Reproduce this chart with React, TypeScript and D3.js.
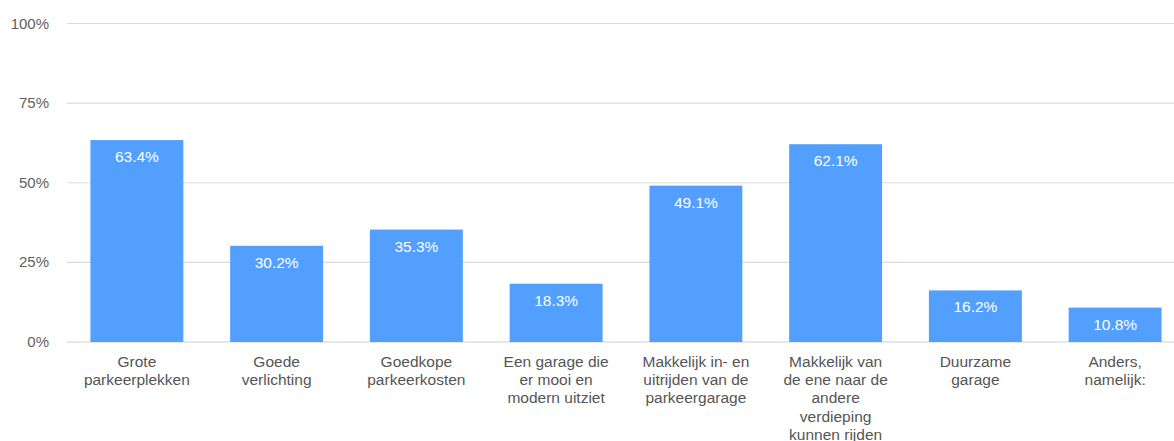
import React from 'react';
import {scaleBand, scaleLinear} from 'd3';

const categories = [
  ['Grote', 'parkeerplekken'],
  ['Goede', 'verlichting'],
  ['Goedkope', 'parkeerkosten'],
  ['Een garage die', 'er mooi en', 'modern uitziet'],
  ['Makkelijk in- en', 'uitrijden van de', 'parkeergarage'],
  ['Makkelijk van', 'de ene naar de', 'andere', 'verdieping', 'kunnen rijden'],
  ['Duurzame', 'garage'],
  ['Anders,', 'namelijk:'],
];
const values = [63.4, 30.2, 35.3, 18.3, 49.1, 62.1, 16.2, 10.8];
const yTicks = [0, 25, 50, 75, 100];

const App = () => {
  const width = 1174, height = 441;
  const font = '"Liberation Sans", Arial, sans-serif';

  const xScale = scaleBand<number>()
    .domain(values.map((_, i) => i))
    .range([67, 1185])
    .paddingInner(0.335)
    .paddingOuter(0.1675);

  const yScale = scaleLinear().domain([0, 100]).range([342, 23.5]);

  return (
    <svg width={width} height={height} style={{position: 'absolute', left: 0, top: 0}} fontFamily={font}>
      <rect width={width} height={height} fill="#fff" />
      {yTicks.map(t => (
        <g key={t}>
          <line x1={67} x2={width} y1={yScale(t)} y2={yScale(t)} stroke={t === 0 ? '#cfcfcf' : '#dcdcdc'} strokeWidth={1.2} />
          <text x={49} y={yScale(t) + 5} textAnchor="end" fontSize={15} fill="#5f5f5f">{t}%</text>
        </g>
      ))}
      {values.map((v, i) => {
        const x = xScale(i)!;
        const bw = xScale.bandwidth();
        return (
          <g key={i}>
            <rect x={x} y={yScale(v)} width={bw} height={yScale(0) - yScale(v)} fill="#529ffd" />
            <text x={x + bw / 2} y={yScale(v) + 22} textAnchor="middle" fontSize={15.5} fill="#fff">{v.toFixed(1)}%</text>
            <text textAnchor="middle" fontSize={15.5} fill="#555">
              {categories[i].map((line, j) => (
                <tspan key={j} x={x + bw / 2} y={367 + j * 18.2}>{line}</tspan>
              ))}
            </text>
          </g>
        );
      })}
    </svg>
  );
};

export default App;
